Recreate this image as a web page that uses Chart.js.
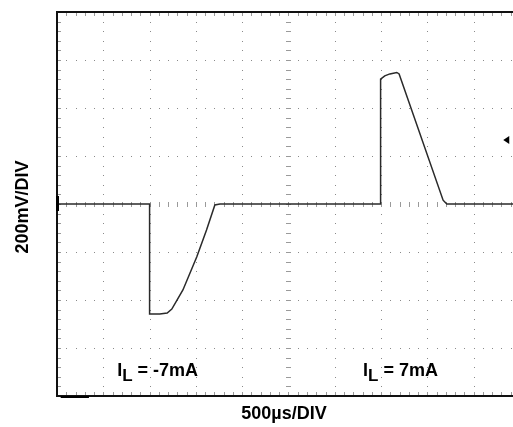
<!DOCTYPE html>
<html>
<head>
<meta charset="utf-8">
<script src="https://cdn.jsdelivr.net/npm/chart.js@4/dist/chart.umd.min.js"></script>
<style>
  html, body { margin: 0; padding: 0; background: #fff; }
  #wrap { width: 513px; height: 427px; position: relative; }
</style>
</head>
<body>
<div id="wrap"><canvas id="scope"></canvas></div>
<script>
// scope trace (x in µs, y in mV)
const timeUs = [0, 1000, 1000, 1110, 1190, 1240, 1360, 1510, 1615, 1705, 1760,
  3495, 3495, 3540, 3595, 3670, 3695, 4170, 4210, 4925];
const traceMv = [0, 0, -458, -458, -454, -438, -358, -220, -108, -4, 0,
  0, 520, 534, 542, 548, 542, 16, 0, 0];

const xDivUs = 500;      // 500µs/DIV
const yDivMv = 200;      // 200mV/DIV
const xDivs = [0, 1, 2, 3, 4, 5, 6, 7, 8, 9];
const yDivs = [-4, -3, -2, -1, 0, 1, 2, 3, 4];
const xLabel = '500µs/DIV';
const yLabel = '200mV/DIV';
const notes = [
  { sub: 'L', text: ' = -7mA', t: 650, v: -715 },
  { sub: 'L', text: ' = 7mA', t: 3305, v: -715 },
];

const FONT = '"Liberation Sans", Arial, sans-serif';

const scopeGrid = {
  id: 'scopeGrid',
  beforeDatasetsDraw(chart) {
    const { ctx, chartArea: a, scales: { x, y } } = chart;
    ctx.save();
    ctx.fillStyle = '#8a8a8a';
    // dotted graticule: one dot per minor step
    for (const d of xDivs) {
      const px = Math.round(x.getPixelForValue(d * xDivUs));
      for (let k = -20; k <= 20; k++) {
        const py = Math.round(y.getPixelForValue(k * yDivMv / 5));
        ctx.fillRect(px, py, 1, 1);
      }
    }
    for (const d of yDivs) {
      const py = Math.round(y.getPixelForValue(d * yDivMv));
      for (let k = 0; k <= 50; k++) {
        const px = Math.round(x.getPixelForValue(k * xDivUs / 5));
        if (px > a.right) break;
        ctx.fillRect(px, py, 1, 1);
      }
    }
    // minor ticks on centre lines and frame edges
    ctx.fillStyle = '#9a9a9a';
    const cy = Math.round(y.getPixelForValue(0));
    const cx = Math.round(x.getPixelForValue(5 * xDivUs));
    for (let k = 0; k <= 50; k++) {
      const px = Math.round(x.getPixelForValue(k * xDivUs / 5));
      if (px > a.right) break;
      ctx.fillRect(px, cy - 2, 1, 5);
      ctx.fillRect(px, a.top, 1, 4);
      ctx.fillRect(px, a.bottom - 4, 1, 4);
    }
    for (let k = -20; k <= 20; k++) {
      const py = Math.round(y.getPixelForValue(k * yDivMv / 5));
      ctx.fillRect(cx - 2, py, 5, 1);
      ctx.fillRect(a.left, py, 4, 1);
    }
    ctx.restore();
  },
  afterDatasetsDraw(chart) {
    const { ctx, chartArea: a, scales: { x, y } } = chart;
    ctx.save();
    // frame: left, top, bottom (right edge is cut off)
    ctx.strokeStyle = '#111';
    ctx.lineWidth = 2;
    ctx.beginPath();
    ctx.moveTo(a.right + 2, a.top);
    ctx.lineTo(a.left, a.top);
    ctx.lineTo(a.left, a.bottom);
    ctx.lineTo(a.right + 2, a.bottom);
    ctx.stroke();
    // ground marker on left edge
    ctx.fillStyle = '#000';
    const gy = y.getPixelForValue(0);
    ctx.fillRect(a.left - 1, gy - 8, 3, 15);
    // trigger marker on bottom edge
    const bx0 = x.getPixelForValue(40), bx1 = x.getPixelForValue(345);
    ctx.fillRect(bx0, a.bottom, bx1 - bx0, 2);
    // trigger level arrow on right
    const ax = x.getPixelForValue(4820), ay = y.getPixelForValue(267);
    ctx.beginPath();
    ctx.moveTo(ax, ay);
    ctx.lineTo(ax + 6, ay - 4);
    ctx.lineTo(ax + 6, ay + 4);
    ctx.closePath();
    ctx.fill();

    // annotations
    ctx.fillStyle = '#000';
    ctx.textBaseline = 'alphabetic';
    for (const n of notes) {
      let px = x.getPixelForValue(n.t);
      const py = y.getPixelForValue(n.v);
      ctx.font = 'bold 18px ' + FONT;
      ctx.fillText('I', px, py);
      px += ctx.measureText('I').width;
      ctx.font = 'bold 17px ' + FONT;
      ctx.fillText(n.sub, px, py + 5);
      px += ctx.measureText(n.sub).width;
      ctx.font = 'bold 18px ' + FONT;
      ctx.fillText(n.text, px, py);
    }

    // axis titles
    ctx.font = 'bold 18px ' + FONT;
    ctx.textAlign = 'center';
    ctx.fillText(xLabel, 284, 419);
    ctx.translate(28, 207);
    ctx.rotate(-Math.PI / 2);
    ctx.fillText(yLabel, 0, 0);
    ctx.restore();
  },
};

new Chart(document.getElementById('scope'), {
  type: 'line',
  data: {
    datasets: [{
      data: timeUs.map((t, i) => ({ x: t, y: traceMv[i] })),
      borderColor: '#2a2a2a',
      borderWidth: 1.5,
      pointRadius: 0,
      tension: 0,
      fill: false,
    }],
  },
  options: {
    responsive: true,
    maintainAspectRatio: false,
    animation: false,
    layout: { padding: { left: 57, top: 12, right: 0, bottom: 31 } },
    scales: {
      x: { type: 'linear', min: 0, max: 4925, display: false },
      y: { type: 'linear', min: -800, max: 800, display: false },
    },
    plugins: { legend: { display: false }, tooltip: { enabled: false } },
  },
  plugins: [scopeGrid],
});
</script>
</body>
</html>
